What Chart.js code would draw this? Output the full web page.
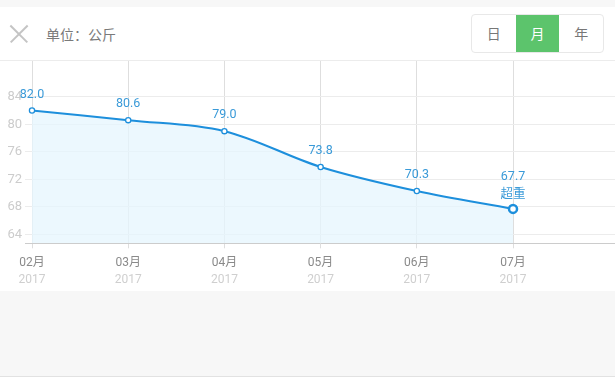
<!DOCTYPE html>
<html><head><meta charset="utf-8">
<script src="https://cdn.jsdelivr.net/npm/chart.js@4.4.1/dist/chart.umd.min.js"></script>
<style>
html,body{margin:0;padding:0;background:#f7f7f7;width:615px;height:377px;overflow:hidden;font-family:"Noto Sans CJK SC","Noto Sans",sans-serif;}
#top{position:absolute;left:0;top:7px;width:615px;height:53px;background:#fff;}
#sep{position:absolute;left:0;top:60px;width:615px;height:1px;background:#ececec;}
#wrap{position:absolute;left:0;top:61px;width:615px;height:230px;background:#fff;}
#bottomline{position:absolute;left:0;top:376px;width:615px;height:1px;background:#e2e2e2;}
.x1,.x2{position:absolute;left:6.5px;top:26px;width:24px;height:1.5px;background:#c4c4c4;}
.x1{transform:rotate(45deg);} .x2{transform:rotate(-45deg);}
#unit{position:absolute;left:46px;top:17px;font-size:14px;line-height:20px;color:#7a7a7a;}
#seg{position:absolute;left:471px;top:7px;width:131px;height:37px;border:1px solid #e8e8e8;border-radius:4px;overflow:hidden;display:flex;}
#seg div{width:44px;height:37px;line-height:37px;text-align:center;font-size:14px;color:#777;}
#seg div.on{background:#5cc46c;color:#fff;}
</style></head>
<body>
<div id="top"><div class="x1"></div><div class="x2"></div>
<div id="unit">单位：公斤</div>
<div id="seg"><div>日</div><div class="on">月</div><div>年</div></div>
</div>
<div id="sep"></div>
<div id="wrap"><canvas id="c" width="615" height="230"></canvas></div>
<div id="bottomline"></div>
<script>
const months = ['02月','03月','04月','05月','06月','07月'];
const years = ['2017','2017','2017','2017','2017','2017'];
const weights = [82.0, 80.6, 79.0, 73.8, 70.3, 67.7];
const statusLabels = ['', '', '', '', '', '超重'];
const yTicks = [64, 68, 72, 76, 80, 84];

const pts = weights.map((v,i)=>({x:i,y:v}));
const last = weights.length-1;
const lineColor = '#1d8fdc';

const labelPlugin = {
  id:'vlabels',
  afterDatasetsDraw(chart){
    const ctx = chart.ctx;
    const meta = chart.getDatasetMeta(0);
    ctx.save();
    ctx.fillStyle = '#3a9ad8';
    ctx.textAlign = 'center';
    ctx.textBaseline = 'middle';
    const numFont = '12.5px "Roboto","Noto Sans",sans-serif';
    meta.data.forEach((el,i)=>{
      const s = statusLabels[i];
      if(s){
        ctx.font = '12.5px "Noto Sans CJK SC",sans-serif';
        ctx.fillText(s, el.x, el.y-16);
        ctx.font = numFont;
        ctx.fillText(weights[i].toFixed(1), el.x, el.y-32.5);
      } else {
        ctx.font = numFont;
        ctx.fillText(weights[i].toFixed(1), el.x, el.y-16);
      }
    });
    ctx.restore();
  }
};

function noPad(s){ s.paddingLeft=0; s.paddingRight=0; s.paddingTop=0; s.paddingBottom=0; }

new Chart(document.getElementById('c'), {
  type:'line',
  data:{datasets:[{
    data:pts,
    borderColor:lineColor,
    borderWidth:2,
    backgroundColor:'rgba(230,245,254,0.75)',
    fill:'start',
    tension:0.35,
    clip:false,
    pointRadius:weights.map((v,i)=>i===last?4:2.6),
    pointBorderWidth:weights.map((v,i)=>i===last?2.5:1.3),
    pointBackgroundColor:'#fff',
    pointBorderColor:lineColor
  }]},
  options:{
    responsive:false,
    animation:false,
    events:[],
    layout:{autoPadding:false, padding:{top:0,right:0,left:0,bottom:2.7}},
    plugins:{legend:{display:false},tooltip:{enabled:false}},
    scales:{
      x:{
        type:'linear', position:'bottom', min:-0.0728, max:6.06,
        afterBuildTicks(s){ s.ticks = months.map((m,i)=>({value:i})); },
        afterFit(s){ s.height = 25; noPad(s); },
        grid:{color:'#dedede', lineWidth:1, tickLength:5, drawTicks:true},
        border:{color:'#cccccc', width:1},
        ticks:{padding:7.5, color:'#8a8a8a', font:{size:12, family:'"Roboto","Noto Sans CJK SC",sans-serif'}, maxRotation:0, autoSkip:false,
          callback:(v)=>months[v]}
      },
      x2:{
        type:'linear', position:'bottom', min:-0.0728, max:6.06,
        afterBuildTicks(s){ s.ticks = years.map((m,i)=>({value:i})); },
        afterFit(s){ s.height = 20; noPad(s); },
        grid:{display:false, drawTicks:false},
        border:{display:false},
        ticks:{padding:4, color:'#cfcfcf', font:{size:12, family:'"Roboto",sans-serif'}, maxRotation:0, autoSkip:false,
          callback:(v)=>years[v]}
      },
      y:{
        min:62.7, max:89.2,
        afterBuildTicks(s){ s.ticks = yTicks.map(v=>({value:v})); },
        afterFit(s){ s.width = 25; noPad(s); },
        grid:{color:'#ececec', drawTicks:false},
        border:{display:false},
        ticks:{padding:3, color:'#cccccc', font:{size:13, family:'"Roboto",sans-serif'}, callback:(v)=>String(v)}
      }
    }
  },
  plugins:[labelPlugin]
});
</script>
</body></html>
